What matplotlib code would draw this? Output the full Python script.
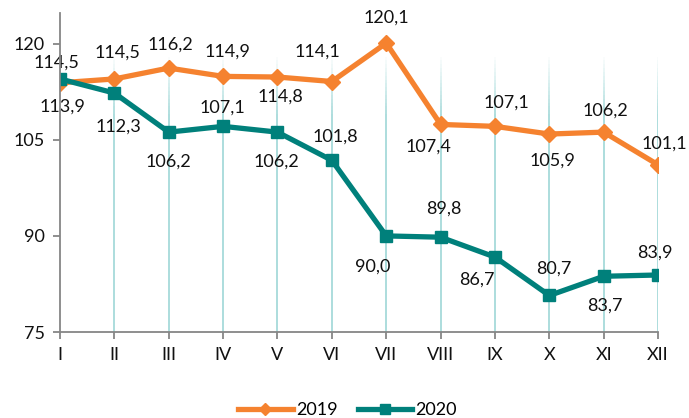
import matplotlib.pyplot as plt
import numpy as np

# Datos
meses = ['I', 'II', 'III', 'IV', 'V', 'VI', 'VII', 'VIII', 'IX', 'X', 'XI', 'XII']
v2019 = [113.9, 114.5, 116.2, 114.9, 114.8, 114.1, 120.1, 107.4, 107.1, 105.9, 106.2, 101.1]
v2020 = [114.5, 112.3, 106.2, 107.1, 106.2, 101.8, 90.0, 89.8, 86.7, 80.7, 83.7, 83.9]

# Desplazamientos de las etiquetas (pixeles)
off2019 = [(2, -24), (3, 26), (2, 23), (4, 25), (3, -20), (-14, 30), (0, 25),
           (-12, -22), (11, 24), (3, -27), (2, 21), (6, 21)]
off2020 = [(-4, 16), (4, -34), (0, -30), (-1, 19), (-1, -30), (3, 24), (-14, -31),
           (3, 29), (-18, -23), (4, 27), (1, -29), (-3, 22)]

naranja = '#F5822F'
verde = '#00807B'
gris = '#868686'
fs = 13

plt.rcParams['font.family'] = ['Lato', 'DejaVu Sans']

fig = plt.figure(figsize=(6.89, 4.18), dpi=100)
ax = fig.add_axes([0.0871, 0.2057, 0.868, 0.7633])

x = np.arange(len(meses))

# Lineas verticales con degradado en la parte superior
for xi in x[1:]:
    ax.vlines(xi, 75, 109, color='#A6DADA', lw=1.3, zorder=1)
    tramos = np.linspace(109, 118, 16)
    for k in range(len(tramos) - 1):
        a = 1 - (k + 1) / len(tramos)
        ax.vlines(xi, tramos[k], tramos[k + 1], color='#A6DADA', lw=1.3, alpha=a, zorder=1)

ax.plot(x, v2019, color=naranja, lw=3.8, marker='D', ms=8.5, label='2019', zorder=3)
ax.plot(x, v2020, color=verde, lw=3.8, marker='s', ms=9, label='2020', zorder=4)

for xi, v, o in zip(x, v2019, off2019):
    ax.annotate(f'{v:.1f}'.replace('.', ','), (xi, v), xytext=o, textcoords='offset pixels',
                ha='center', va='center', fontsize=fs, color='#111111', zorder=5)
for xi, v, o in zip(x, v2020, off2020):
    ax.annotate(f'{v:.1f}'.replace('.', ','), (xi, v), xytext=o, textcoords='offset pixels',
                ha='center', va='center', fontsize=fs, color='#111111', zorder=5)

ax.set_xlim(0, 11)
ax.set_ylim(75, 124.8)
ax.set_yticks([75, 90, 105, 120])
ax.set_xticks(x)
ax.set_xticklabels(meses)

for s in ['top', 'right']:
    ax.spines[s].set_visible(False)
for s in ['left', 'bottom']:
    ax.spines[s].set_color(gris)
    ax.spines[s].set_linewidth(1.3)
ax.spines['left'].set_zorder(6)

ax.tick_params(axis='both', colors=gris, length=5, width=1.3, labelsize=fs,
               labelcolor='#111111')
ax.tick_params(axis='y', pad=6)
ax.tick_params(axis='x', pad=6)

ax.legend(loc='center', bbox_to_anchor=(0.481, -0.245), ncol=2, frameon=False,
          fontsize=fs, handlelength=3.0, columnspacing=1.1, handletextpad=0.2,
          markerscale=0.75)

fig.savefig('out.png', dpi=100)
